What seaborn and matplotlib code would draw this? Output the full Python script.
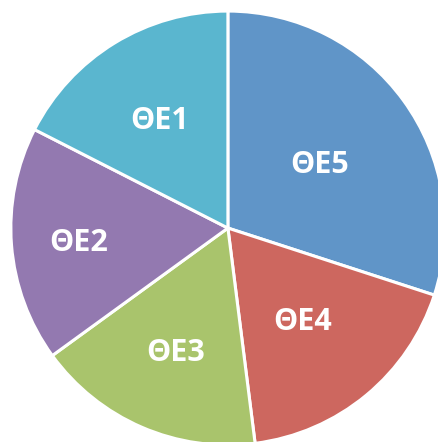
import numpy as np
import matplotlib.pyplot as plt
import seaborn as sns

# slices, drawn clockwise from 12 o'clock
labels = ["ΘΕ5", "ΘΕ4", "ΘΕ3", "ΘΕ2", "ΘΕ1"]
shares = [30, 18, 17, 17.5, 17.5]
colors = ["#6095C8", "#CD675F", "#A9C46C", "#9379B0", "#5AB6CF"]
label_dist = [0.52, 0.54, 0.61, 0.69, 0.60]

sns.set_theme(style="white")
plt.rcParams['font.family'] = ['Open Sans', 'DejaVu Sans']

fig = plt.figure(figsize=(4.38, 4.42), dpi=100)
ax = fig.add_axes([0, 0, 1, 1])

wedges, _ = ax.pie(shares, colors=sns.color_palette(colors), startangle=90,
                   counterclock=False,
                   wedgeprops=dict(edgecolor="white", linewidth=2.2))

for w, lab, d in zip(wedges, labels, label_dist):
    mid = np.deg2rad((w.theta1 + w.theta2) / 2)
    ax.text(d * np.cos(mid), d * np.sin(mid), lab, ha="center",
            va="center_baseline", color="white", fontsize=22,
            fontweight="bold")

# pie sits slightly off-centre and is clipped at right/bottom
ax.set_aspect("auto")
ax.set_xlim(-1.05, 0.968)
ax.set_ylim(-0.986, 1.051)
ax.axis("off")

fig.savefig("out.png", dpi=100)
